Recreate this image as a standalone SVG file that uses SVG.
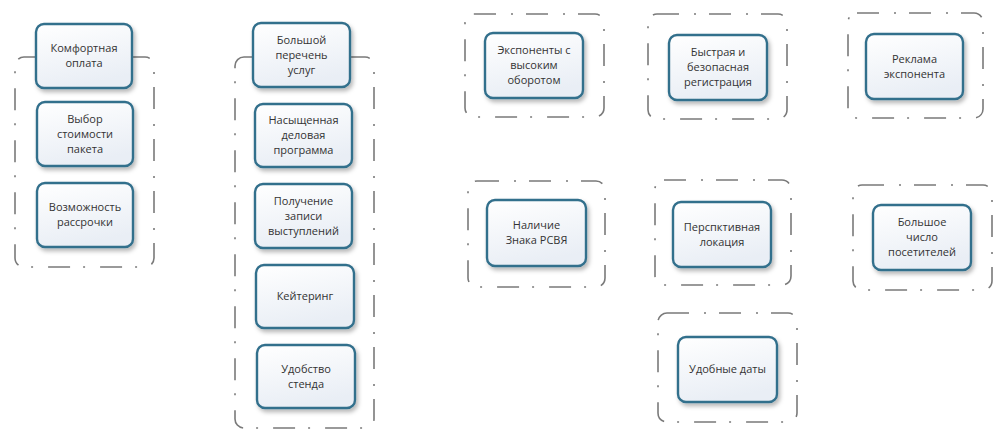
<svg xmlns="http://www.w3.org/2000/svg" width="1005" height="437" viewBox="0 0 1005 437">
<style>
.grp{fill:none;stroke:#7a7a7a;stroke-width:1.6;stroke-dasharray:22 15 2 13}
.box{fill:url(#bg);stroke:#336f8c;stroke-width:2.4;filter:url(#sh)}
.t{font-family:"Open Sans","Noto Sans",sans-serif;font-size:11px;fill:#333;text-anchor:middle}
</style>
<defs>
<linearGradient id="bg" x1="0" y1="0" x2="0.3" y2="1">
<stop offset="0" stop-color="#ffffff"/>
<stop offset="1" stop-color="#e9eef5"/>
</linearGradient>
<filter id="sh" x="-20%" y="-20%" width="150%" height="150%">
<feDropShadow dx="2" dy="3" stdDeviation="2.2" flood-color="#000" flood-opacity="0.28"/>
</filter>
</defs>
<g id="containers">
<rect class="grp" x="15" y="57" width="139" height="210" rx="9"/>
<rect class="grp" x="235" y="57" width="139" height="371" rx="9"/>
<rect class="grp" x="465" y="14" width="139" height="103" rx="9"/>
<rect class="grp" x="648" y="14" width="139" height="105" rx="9"/>
<rect class="grp" x="848" y="13" width="135" height="105" rx="9"/>
<rect class="grp" x="468" y="181" width="137" height="106" rx="9"/>
<rect class="grp" x="655" y="180" width="136" height="105" rx="9"/>
<rect class="grp" x="658" y="313" width="139" height="109" rx="9"/>
<rect class="grp" x="853" y="185" width="139" height="105" rx="9"/>
</g>
<g id="n1"><rect class="box" x="36" y="24" width="96" height="64" rx="8"/><text class="t" x="84" y="52">Комфортная</text><text class="t" x="84" y="67">оплата</text></g>
<g id="n2"><rect class="box" x="37" y="102" width="96" height="64" rx="8"/><text class="t" x="85" y="123">Выбор</text><text class="t" x="85" y="138">стоимости</text><text class="t" x="85" y="153">пакета</text></g>
<g id="n3"><rect class="box" x="37" y="183" width="96" height="64" rx="8"/><text class="t" x="85" y="211">Возможность</text><text class="t" x="85" y="226">рассрочки</text></g>
<g id="n4"><rect class="box" x="253" y="23" width="97" height="64" rx="8"/><text class="t" x="301.5" y="44">Большой</text><text class="t" x="301.5" y="59">перечень</text><text class="t" x="301.5" y="74">услуг</text></g>
<g id="n5"><rect class="box" x="255" y="104" width="97" height="63" rx="8"/><text class="t" x="303.5" y="124">Насыщенная</text><text class="t" x="303.5" y="139">деловая</text><text class="t" x="303.5" y="154">программа</text></g>
<g id="n6"><rect class="box" x="255" y="184" width="97" height="64" rx="8"/><text class="t" x="303.5" y="205">Получение</text><text class="t" x="303.5" y="220">записи</text><text class="t" x="303.5" y="235">выступлений</text></g>
<g id="n7"><rect class="box" x="256" y="265" width="98" height="63" rx="8"/><text class="t" x="305" y="300">Кейтеринг</text></g>
<g id="n8"><rect class="box" x="257" y="345" width="98" height="63" rx="8"/><text class="t" x="306" y="373">Удобство</text><text class="t" x="306" y="388">стенда</text></g>
<g id="n9"><rect class="box" x="485" y="33" width="98" height="65" rx="8"/><text class="t" x="534" y="54">Экспоненты с</text><text class="t" x="534" y="69">высоким</text><text class="t" x="534" y="84">оборотом</text></g>
<g id="n10"><rect class="box" x="669" y="35" width="98" height="65" rx="8"/><text class="t" x="718" y="56">Быстрая и</text><text class="t" x="718" y="71">безопасная</text><text class="t" x="718" y="86">регистрация</text></g>
<g id="n11"><rect class="box" x="866" y="34" width="97" height="65" rx="8"/><text class="t" x="914.5" y="63">Реклама</text><text class="t" x="914.5" y="78">экспонента</text></g>
<g id="n12"><rect class="box" x="487" y="200" width="99" height="66" rx="8"/><text class="t" x="536.5" y="229">Наличие</text><text class="t" x="536.5" y="244">Знака РСВЯ</text></g>
<g id="n13"><rect class="box" x="673" y="202" width="98" height="65" rx="8"/><text class="t" x="722" y="231">Перспктивная</text><text class="t" x="722" y="246">локация</text></g>
<g id="n14"><rect class="box" x="678" y="337" width="99" height="65" rx="8"/><text class="t" x="727.5" y="373">Удобные даты</text></g>
<g id="n15"><rect class="box" x="873" y="205" width="98" height="65" rx="8"/><text class="t" x="922" y="226">Большое</text><text class="t" x="922" y="241">число</text><text class="t" x="922" y="256">посетителей</text></g>
<g id="connectors"></g>
</svg>
